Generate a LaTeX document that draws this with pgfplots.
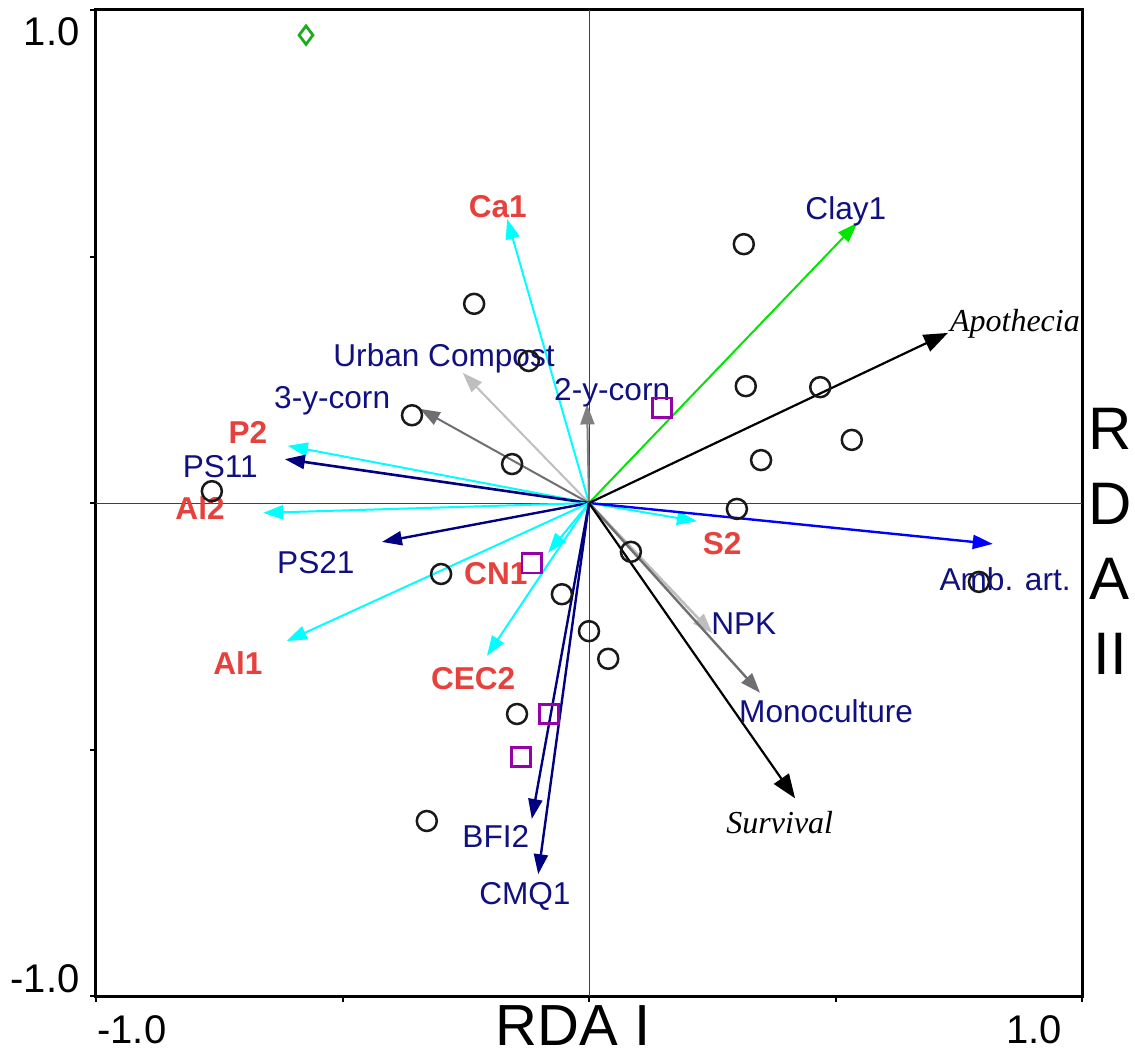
\documentclass[border=0pt]{standalone}
\usepackage{pgfplots}
\pgfplotsset{compat=1.18}
\usetikzlibrary{arrows.meta}
\usepackage{fontspec}
\setmainfont{Liberation Sans}
\newfontfamily\serifit{Liberation Serif}
\definecolor{cyanA}{RGB}{0,255,255}
\definecolor{greenA}{RGB}{0,230,0}
\definecolor{blueA}{RGB}{0,0,255}
\definecolor{navyA}{RGB}{0,0,128}
\definecolor{lgray}{RGB}{190,190,190}
\definecolor{dgray}{RGB}{110,110,115}
\definecolor{mgray}{RGB}{128,128,128}
\definecolor{redL}{RGB}{230,65,60}
\definecolor{navyL}{RGB}{16,16,128}
\definecolor{purp}{RGB}{150,0,170}
\definecolor{dgreen}{RGB}{30,170,30}
\tikzset{
  ca/.style={line width=1pt, -{Triangle[length=10pt,width=7pt]}},
  ka/.style={line width=1.1pt, -{Triangle[length=12pt,width=9pt]}},
  lbl/.style={anchor=base, yshift=-5.6pt, inner sep=0pt, font=\fontsize{15.8}{18}\selectfont, text=navyL},
  rlbl/.style={lbl, text=redL, font=\fontsize{15.8}{18}\selectfont\bfseries},
  ilbl/.style={lbl, text=black, font=\fontsize{16}{18}\selectfont\serifit\itshape},
}
\begin{document}
\begin{tikzpicture}
\begin{axis}[
  width=493pt, height=493pt, scale only axis,
  xmin=-1, xmax=1, ymin=-1, ymax=1,
  xtick={-1,-0.5,0,0.5,1}, ytick={-1,-0.5,0,0.5,1},
  xticklabels={}, yticklabels={},
  tick pos=left, tick align=outside, major tick length=3pt,
  every tick/.style={black, line width=1pt},
  axis line style={line width=1.5pt},
  clip=false,
]
% zero lines
\addplot[line width=0.5pt, black!75, no markers] coordinates {(-1,0) (1,0)};
\addplot[line width=0.5pt, black!75, no markers] coordinates {(0,-1) (0,1)};
% arrows
\addplot[ca, cyanA] coordinates {(0,0) (-0.166,0.576)};
\addplot[ca, greenA] coordinates {(0,0) (0.544,0.568)};
\addplot[ca, lgray] coordinates {(0,0) (-0.256,0.264)};
\addplot[ca, dgray] coordinates {(0,0) (-0.343,0.191)};
\addplot[ca, mgray] coordinates {(0,0) (-0.004,0.200)};
\addplot[ca, cyanA] coordinates {(0,0) (-0.611,0.116)};
\addplot[ca, navyA, line width=1.3pt] coordinates {(0,0) (-0.617,0.089)};
\addplot[ca, cyanA] coordinates {(0,0) (-0.661,-0.020)};
\addplot[ca, navyA, line width=1.2pt] coordinates {(0,0) (-0.420,-0.079)};
\addplot[ca, cyanA] coordinates {(0,0) (-0.083,-0.101)};
\addplot[ca, cyanA] coordinates {(0,0) (-0.613,-0.280)};
\addplot[ca, cyanA] coordinates {(0,0) (-0.207,-0.310)};
\addplot[ca, cyanA] coordinates {(0,0) (0.219,-0.037)};
\addplot[ca, blueA, line width=1.2pt] coordinates {(0,0) (0.819,-0.083)};
\addplot[ca, lgray, line width=1.3pt] coordinates {(0,0) (0.250,-0.264)};
\addplot[ca, dgray, line width=1.2pt] coordinates {(0,0) (0.347,-0.385)};
\addplot[ca, navyA, line width=1.2pt] coordinates {(0,0) (-0.116,-0.641)};
\addplot[ca, navyA, line width=1.2pt] coordinates {(0,0) (-0.103,-0.753)};
\addplot[ka, black] coordinates {(0,0) (0.728,0.345)};
\addplot[ka, black] coordinates {(0,0) (0.418,-0.599)};
% sites
\addplot[only marks, mark=o, mark size=5pt, mark options={line width=1.25pt, draw=black!90}] coordinates {
(-0.233,0.404) (-0.122,0.288) (-0.359,0.178) (-0.156,0.079) (-0.765,0.024)
(0.314,0.525) (0.318,0.237) (0.469,0.235) (0.533,0.128) (0.349,0.087)
(0.300,-0.012) (0.085,-0.099) (-0.300,-0.144) (-0.055,-0.185) (0.000,-0.260)
(0.039,-0.316) (-0.146,-0.428) (-0.329,-0.645) (0.791,-0.160)};
\addplot[only marks, mark=square, mark size=4.8pt, mark options={line width=1.2pt, draw=purp}] coordinates {
(0.148,0.193) (-0.116,-0.122) (-0.081,-0.428) (-0.138,-0.515)};
\addplot[only marks, mark=diamond, mark size=4.6pt, mark options={line width=1.4pt, draw=dgreen}] coordinates {(-0.574,0.949)};
% labels
\node[rlbl] at (axis cs:-0.185,0.602) {Ca1};
\node[lbl] at (axis cs:0.521,0.598) {Clay1};
\node[ilbl] at (axis cs:0.864,0.371) {Apothecia};
\node[lbl] at (axis cs:-0.294,0.300) {Urban Compost};
\node[lbl] at (axis cs:-0.521,0.215) {3-y-corn};
\node[lbl] at (axis cs:0.047,0.231) {2-y-corn};
\node[rlbl] at (axis cs:-0.692,0.144) {P2};
\node[lbl] at (axis cs:-0.748,0.075) {PS11};
\node[rlbl] at (axis cs:-0.789,-0.010) {Al2};
\node[lbl] at (axis cs:-0.554,-0.120) {PS21};
\node[rlbl] at (axis cs:-0.189,-0.142) {CN1};
\node[rlbl] at (axis cs:-0.712,-0.325) {Al1};
\node[rlbl] at (axis cs:-0.235,-0.355) {CEC2};
\node[rlbl] at (axis cs:0.270,-0.081) {S2};
\node[lbl] at (axis cs:0.844,-0.154) {Amb. art.};
\node[lbl] at (axis cs:0.314,-0.243) {NPK};
\node[lbl] at (axis cs:0.481,-0.422) {Monoculture};
\node[ilbl] at (axis cs:0.387,-0.647) {Survival};
\node[lbl] at (axis cs:-0.189,-0.677) {BFI2};
\node[lbl] at (axis cs:-0.130,-0.791) {CMQ1};
% tick labels
\node[anchor=north east, inner sep=0pt, font=\fontsize{20}{22}\selectfont] at ([xshift=-8pt,yshift=-3.5pt]rel axis cs:0,1) {1.0};
\node[anchor=south east, inner sep=0pt, font=\fontsize{20}{22}\selectfont] at ([xshift=-8pt,yshift=1.5pt]rel axis cs:0,0) {-1.0};
\node[anchor=north west, inner sep=0pt, font=\fontsize{20}{22}\selectfont] at ([xshift=0.5pt,yshift=-9.5pt]rel axis cs:0,0) {-1.0};
\node[anchor=north east, inner sep=0pt, font=\fontsize{20}{22}\selectfont] at ([xshift=-10pt,yshift=-9.5pt]rel axis cs:1,0) {1.0};
% axis titles
\node[anchor=base, inner sep=0pt, font=\fontsize{29}{34}\selectfont] at ([xshift=-8pt,yshift=-24.5pt]rel axis cs:0.5,0) {RDA I};
\node[anchor=north, inner sep=0pt, align=center, font=\fontsize{30}{37.5}\selectfont] at ([xshift=14pt]rel axis cs:1,0.5963) {R\\D\\A\\II};
\end{axis}
\pgfresetboundingbox
\path (-48pt,-30.5pt) rectangle (519.5pt,498pt);
\end{tikzpicture}
\end{document}
